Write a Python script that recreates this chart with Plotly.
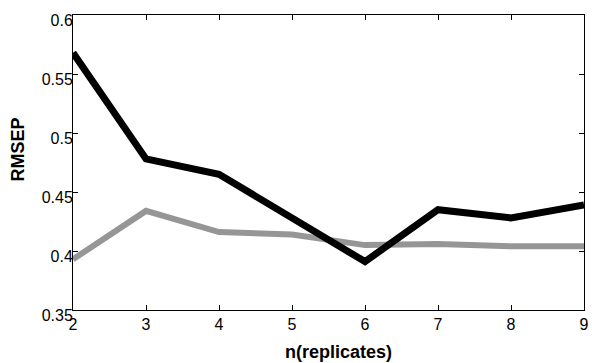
import plotly.graph_objects as go

n_replicates = [2, 3, 4, 5, 6, 7, 8, 9]
rmsep_black = [0.568, 0.478, 0.465, 0.428, 0.391, 0.435, 0.428, 0.439]
rmsep_gray = [0.393, 0.434, 0.416, 0.414, 0.405, 0.406, 0.404, 0.404]
x_ticks = [2, 3, 4, 5, 6, 7, 8, 9]
y_ticks = [0.35, 0.4, 0.45, 0.5, 0.55, 0.6]
y_tick_labels = ["0.35", "0.4", "0.45", "0.5", "0.55", "0.6"]
x_title = "n(replicates)"
y_title = "RMSEP"

fig = go.Figure()
fig.add_trace(go.Scatter(x=n_replicates, y=rmsep_gray, mode="lines",
                         line=dict(color="rgb(150,150,150)", width=6),
                         showlegend=False))
fig.add_trace(go.Scatter(x=n_replicates, y=rmsep_black, mode="lines",
                         line=dict(color="black", width=7),
                         showlegend=False))

font = "Liberation Sans, Arial, sans-serif"
fig.update_layout(
    width=592, height=363,
    margin=dict(l=73, r=8, t=15, b=53),
    paper_bgcolor="white", plot_bgcolor="white",
    font=dict(family=font, size=16, color="black"),
    xaxis=dict(range=[2, 9], tickvals=x_ticks, ticks="inside", ticklen=5,
               tickcolor="black", showline=True, linecolor="black", linewidth=1,
               mirror="ticks", showgrid=False, zeroline=False,
               ticklabelstandoff=0, automargin=False),
    yaxis=dict(range=[0.35, 0.6], tickvals=y_ticks, ticktext=y_tick_labels,
               ticks="inside", ticklen=5, tickcolor="black", showline=True,
               linecolor="black", linewidth=1, mirror="ticks", showgrid=False,
               zeroline=False, ticklabelstandoff=-4, ticklabelshift=5,
               automargin=False),
    annotations=[
        dict(text="<b>" + x_title + "</b>", xref="paper", yref="paper",
             x=0.5205, y=0, yshift=-42, xanchor="center", yanchor="middle",
             showarrow=False, font=dict(size=18)),
        dict(text="<b>" + y_title + "</b>", xref="paper", yref="paper",
             x=0, xshift=-55.5, y=0.5424, textangle=-90,
             xanchor="center", yanchor="middle",
             showarrow=False, font=dict(size=18)),
    ],
)
fig.write_html("out.html")
